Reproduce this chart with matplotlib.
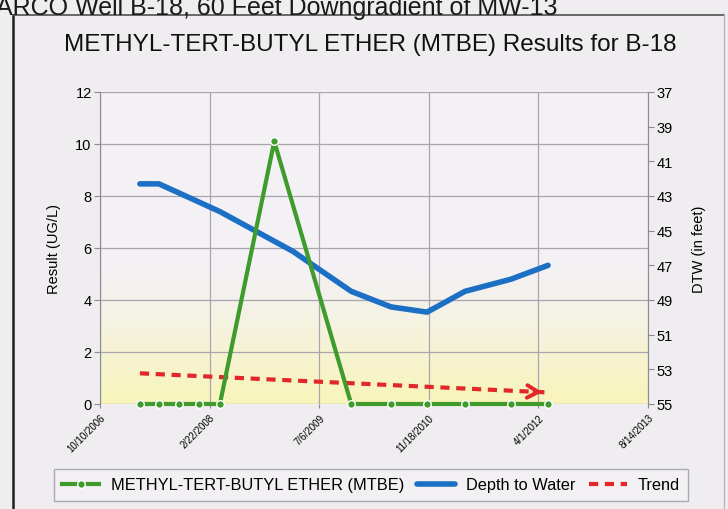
import matplotlib
matplotlib.use("Agg")
import matplotlib.pyplot as plt
import numpy as np
import pandas as pd
from matplotlib.lines import Line2D

plt.rcParams['font.family'] = ['Liberation Sans', 'DejaVu Sans']

# ---- data ----
mtbe_dates = ["2007-04-10", "2007-07-06", "2007-10-05", "2008-01-05", "2008-04-09",
              "2008-12-13", "2009-11-29", "2010-05-30", "2010-11-10", "2011-05-02",
              "2011-11-28", "2012-05-15"]
mtbe_values = [0, 0, 0, 0, 0, 10.1, 0, 0, 0, 0, 0, 0]

dtw_dates = ["2007-04-10", "2007-07-06", "2008-04-09", "2009-03-09", "2009-11-29",
             "2010-05-30", "2010-11-10", "2011-05-02", "2011-11-28", "2012-05-15"]
dtw_values = [42.3, 42.3, 43.9, 46.2, 48.5, 49.4, 49.7, 48.5, 47.8, 47.0]

trend_dates = ["2007-04-10", "2012-05-01"]
trend_values = [1.18, 0.45]

x_tick_dates = ["2006-10-10", "2008-02-22", "2009-07-06", "2010-11-18", "2012-04-01", "2013-08-14"]
x_tick_labels = ["10/10/2006", "2/22/2008", "7/6/2009", "11/18/2010", "4/1/2012", "8/14/2013"]
left_ticks = [0, 2, 4, 6, 8, 10, 12]
right_ticks = [37, 39, 41, 43, 45, 47, 49, 51, 53, 55]

title = "METHYL-TERT-BUTYL ETHER (MTBE) Results for B-18"
page_header = "ARCO Well B-18, 60 Feet Downgradient of MW-13"

md = pd.to_datetime(mtbe_dates)
dd = pd.to_datetime(dtw_dates)
td = pd.to_datetime(trend_dates)
xt = pd.to_datetime(x_tick_dates)

fig = plt.figure(figsize=(7.28, 5.10), dpi=100)
fig.patch.set_facecolor('#efedef')

# page header (cut off at top in the scan)
fig.text(-0.006, 1 - 15/510, page_header, fontsize=18, color='#1a1a1a',
         ha='left', va='baseline')

# chart frame
fig.add_artist(Line2D([13/728, 13/728], [0, 1 - 16/510], transform=fig.transFigure,
                      color='#202020', lw=1.8))
fig.add_artist(Line2D([13/728, 724/728], [1 - 16/510, 1 - 16/510], transform=fig.transFigure,
                      color='#505050', lw=1.2))
fig.add_artist(Line2D([724/728, 724/728], [0, 1 - 16/510], transform=fig.transFigure,
                      color='#b8b6bc', lw=1.0))

fig.text(370/728, 1 - 45/510, title, fontsize=17.5, ha='center', va='center', color='#111111')

rect = [100/728, 1 - 405/510, 548/728, 312/510]

# background axes (right axis, DTW)
ax2 = fig.add_axes(rect)
ax2.set_facecolor('#f3f1f4')
grad = np.linspace(0, 1, 256)
alpha = np.clip(1 - grad, 0, 1) ** 1.3
rgba = np.zeros((256, 1, 4))
rgba[:, 0, 0] = 0.99
rgba[:, 0, 1] = 0.97
rgba[:, 0, 2] = 0.60
rgba[:, 0, 3] = alpha * 0.65
ax2.imshow(rgba, extent=[0, 1, 0, 0.45], transform=ax2.transAxes, origin='lower',
           aspect='auto', zorder=0.5)
ax2.set_xlim(xt[0], xt[-1])
ax2.set_ylim(55, 37)
ax2.set_yticks(right_ticks)
ax2.yaxis.tick_right()
ax2.yaxis.set_label_position('right')
ax2.tick_params(axis='y', labelsize=10.5, length=4, color='#8c8894', pad=2)
ax2.tick_params(axis='x', bottom=False, labelbottom=False)
for s in ['top', 'bottom', 'left']:
    ax2.spines[s].set_visible(False)
ax2.spines['right'].set_color('#8c8894')
ax2.set_ylabel("DTW (in feet)", fontsize=10.5, labelpad=14)
# grid lines drawn on background axes
for v in left_ticks:
    ax2.axhline(37 + (12 - v) * 1.5, color='#a9a5ae', lw=0.9, zorder=1)
for t in xt:
    ax2.axvline(t, color='#a9a5ae', lw=0.9, zorder=1)

l_dtw, = ax2.plot(dd, dtw_values, color='#1b6fc4', lw=4, solid_capstyle='round',
                  solid_joinstyle='round', zorder=3, label='Depth to Water')

# foreground axes (left axis, MTBE)
ax = fig.add_axes(rect)
ax.patch.set_visible(False)
ax.set_xlim(xt[0], xt[-1])
ax.set_ylim(0, 12)
ax.set_xticks(xt)
ax.set_xticklabels(x_tick_labels, rotation=45, ha='right', va='top', fontsize=7,
                   rotation_mode='anchor')
ax.set_yticks(left_ticks)
ax.tick_params(axis='y', labelsize=10.5, length=4, color='#8c8894', pad=2)
ax.tick_params(axis='x', length=3, color='#8c8894', pad=3)
for s in ['top', 'bottom', 'right']:
    ax.spines[s].set_visible(False)
ax.spines['left'].set_color('#8c8894')
ax.set_ylabel("Result (UG/L)", fontsize=10.5, labelpad=10)

l_tr, = ax.plot(td, trend_values, color='#e3262a', lw=3, ls=(0, (2.2, 1.6)),
                zorder=4, label='Trend')
ax.annotate('', xy=(td[-1], trend_values[-1]),
            xytext=(td[-1] - pd.Timedelta(days=60),
                    trend_values[-1] + (trend_values[0] - trend_values[-1]) * 60 / (td[-1] - td[0]).days),
            arrowprops=dict(arrowstyle='->,head_length=0.8,head_width=0.45', color='#e3262a', lw=2.8),
            zorder=4)

l_m, = ax.plot(md, mtbe_values, color='#3e9b2c', lw=3, marker='o', ms=5.5,
               markerfacecolor='#3e9b2c', markeredgecolor='white', markeredgewidth=1.0,
               zorder=5, clip_on=False, label='METHYL-TERT-BUTYL ETHER (MTBE)')

leg = fig.legend(handles=[l_m, l_dtw, l_tr], loc='center', ncol=3,
                 bbox_to_anchor=(371/728, 1 - 486/510), fontsize=11.8, frameon=True,
                 handlelength=2.3, columnspacing=0.8, handletextpad=0.7,
                 borderpad=0.5, borderaxespad=0, fancybox=False)
leg.get_frame().set_edgecolor('#9a98a0')
leg.get_frame().set_facecolor('#f3f1f3')
leg.get_frame().set_linewidth(1.0)

fig.savefig("out.png", dpi=100, facecolor=fig.get_facecolor())
